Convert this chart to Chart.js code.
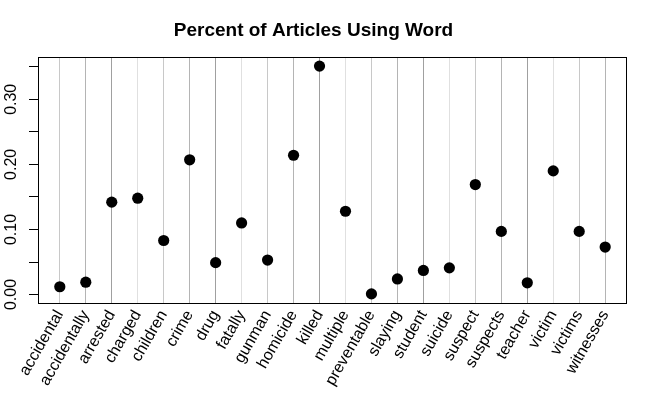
<!DOCTYPE html>
<html>
<head>
<meta charset="utf-8">
<script src="https://cdn.jsdelivr.net/npm/chart.js@4"></script>
<style>
  html, body { margin: 0; padding: 0; background: #fff; }
  #wrap { width: 647px; height: 400px; }
</style>
</head>
<body>
<div id="wrap"><canvas id="grafico"></canvas></div>
<script>
const words = ['accidental', 'accidentally', 'arrested', 'charged', 'children', 'crime', 'drug',
  'fatally', 'gunman', 'homicide', 'killed', 'multiple', 'preventable', 'slaying', 'student',
  'suicide', 'suspect', 'suspects', 'teacher', 'victim', 'victims', 'witnesses'];
const pct = [0.012, 0.019, 0.142, 0.148, 0.083, 0.207, 0.049, 0.110, 0.053, 0.214, 0.351,
  0.128, 0.001, 0.024, 0.037, 0.041, 0.169, 0.097, 0.018, 0.190, 0.097, 0.073];
const yTicks = [0, 0.05, 0.10, 0.15, 0.20, 0.25, 0.30, 0.35];
const yLabelled = ['0.00', '0.10', '0.20', '0.30'];

const gridGreys = ['#c8c8c8', '#b4b4b4', '#a0a0a0', '#e0e0e0'];
const font = '"Liberation Sans", Arial, sans-serif';

// caja alrededor del area de trazado, como bty="o"
const boxPlugin = {
  id: 'plotBox',
  afterDraw(chart) {
    const a = chart.chartArea;
    const ctx = chart.ctx;
    ctx.save();
    ctx.strokeStyle = '#000';
    ctx.lineWidth = 1;
    ctx.strokeRect(Math.round(a.left) + 0.5, Math.round(a.top) + 0.5,
      Math.round(a.right - a.left) - 1, Math.round(a.bottom - a.top));
    ctx.restore();
  }
};

const ctx = document.getElementById('grafico').getContext('2d');
new Chart(ctx, {
  type: 'scatter',
  data: {
    datasets: [{
      label: 'Percent',
      data: words.map((w, i) => ({ x: i + 1, y: pct[i] })),
      backgroundColor: '#000',
      borderWidth: 0,
      pointRadius: 5.6,
      pointHoverRadius: 5.6
    }]
  },
  options: {
    responsive: true,
    maintainAspectRatio: false,
    animation: false,
    layout: { padding: { left: 0, right: 20, top: 0, bottom: 0 } },
    plugins: {
      legend: { display: false },
      tooltip: { enabled: false },
      title: {
        display: true,
        text: 'Percent of Articles Using Word',
        color: '#000',
        font: { family: font, size: 19, weight: 'bold' },
        padding: { top: 19, bottom: 15.2 }
      }
    },
    scales: {
      x: {
        type: 'linear',
        min: 0.16,
        max: 22.84,
        afterBuildTicks: axis => { axis.ticks = words.map((w, i) => ({ value: i + 1 })); },
        afterFit: axis => { axis.height = 97; },
        border: { display: false },
        grid: {
          drawTicks: false,
          color: c => gridGreys[c.index % 4],
          lineWidth: 1
        },
        ticks: {
          autoSkip: false,
          minRotation: 60,
          maxRotation: 60,
          padding: 4,
          color: '#000',
          font: { family: font, size: 16 },
          callback: v => words[v - 1]
        }
      },
      y: {
        min: -0.013,
        max: 0.365,
        afterBuildTicks: axis => { axis.ticks = yTicks.map(v => ({ value: v })); },
        afterFit: axis => { axis.width = 38; },
        border: { display: false },
        grid: {
          drawOnChartArea: false,
          drawTicks: true,
          tickLength: 9,
          tickColor: '#000'
        },
        ticks: {
          minRotation: 90,
          maxRotation: 90,
          crossAlign: 'center',
          padding: 2,
          color: '#000',
          font: { family: font, size: 16 },
          callback: v => {
            const s = v.toFixed(2);
            return yLabelled.includes(s) ? s : '';
          }
        }
      }
    }
  },
  plugins: [boxPlugin]
});
</script>
</body>
</html>
